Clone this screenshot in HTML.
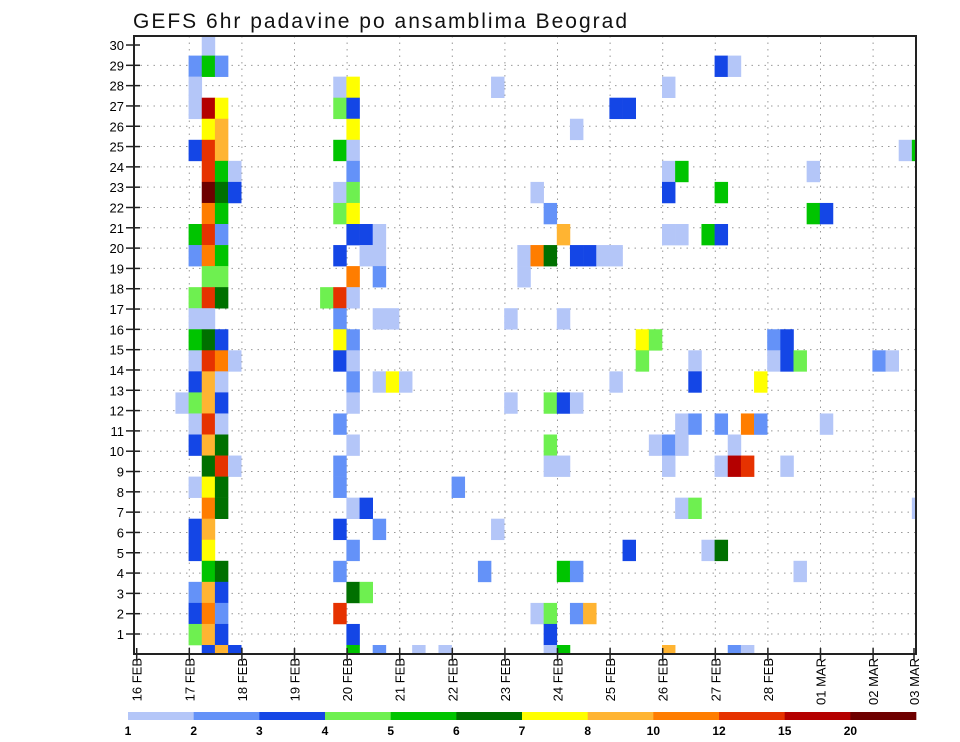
<!DOCTYPE html>
<html><head><meta charset="utf-8"><style>
html,body{margin:0;padding:0;background:#fff;}
svg{display:block;font-family:"Liberation Sans",sans-serif;}
</style></head><body>
<svg id="chart" width="960" height="742" viewBox="0 0 960 742">
<text x="133" y="28" font-size="21" fill="#111" textLength="494" lengthAdjust="spacing">GEFS 6hr padavine po ansamblima Beograd</text>
<defs><clipPath id="pc"><rect x="134" y="36" width="782" height="618"/></clipPath></defs>
<g id="grid"></g>
<g id="cells" clip-path="url(#pc)"></g>
<rect x="134" y="36" width="782" height="618" fill="none" stroke="#222" stroke-width="2"/>
<g id="yaxis"></g>
<g id="xaxis"></g>
<g id="legend"></g>
</svg>
<script>
// category labels
const dayLabels = ["16 FEB","17 FEB","18 FEB","19 FEB","20 FEB","21 FEB","22 FEB","23 FEB","24 FEB","25 FEB","26 FEB","27 FEB","28 FEB","01 MAR","02 MAR","03 MAR"];
const memberTicks = [1,2,3,4,5,6,7,8,9,10,11,12,13,14,15,16,17,18,19,20,21,22,23,24,25,26,27,28,29,30];
const levelLabels = ["1","2","3","4","5","6","7","8","10","12","15","20"];
const levelColors = ["#b4c6f8","#6492f8","#1446e6","#6ef050","#00c400","#007000","#ffff00","#ffb432","#ff7d00","#e63200","#b40000","#6e0000"];
// cells: time step (6h index from 16 FEB 00z), ensemble member row, colour level index
const cellTime = [
5, 4,5,6,44,45, 4,15,16,27,40, 4,5,6,15,16,36,37, 5,6,16,33, 4,5,6,15,16,58,59,
5,6,7,16,40,41,51, 5,6,7,15,16,30,40,44, 5,6,15,16,31,51,52, 4,5,6,16,17,18,32,40,41,43,44,
4,5,6,15,17,18,29,30,31,33,34,35,36, 5,6,16,18,29, 4,5,6,14,15,16, 4,5,15,18,19,28,32,
4,5,6,15,16,38,39,48,49, 4,5,6,7,15,16,38,42,48,49,50,56,57, 4,5,6,16,18,19,20,36,42,47,
3,4,5,6,16,28,31,32,33, 4,5,6,15,41,42,44,46,47,52, 4,5,6,16,31,39,40,41,45,
5,6,7,15,31,32,40,44,45,46,49, 4,5,6,15,24, 5,6,16,17,41,42,59, 4,5,15,18,27,
4,5,16,37,43,44, 5,6,15,26,32,33,50, 4,5,6,16,17, 4,5,6,15,30,31,33,34, 4,5,6,16,31,
5,6,7,16,18,21,23,31,32,40,45,46];
const cellMember = [
29, 28,28,28,28,28, 27,27,27,27,27, 26,26,26,26,26,26,26, 25,25,25,25, 24,24,24,24,24,24,24,
23,23,23,23,23,23,23, 22,22,22,22,22,22,22,22, 21,21,21,21,21,21,21, 20,20,20,20,20,20,20,20,20,20,20,
19,19,19,19,19,19,19,19,19,19,19,19,19, 18,18,18,18,18, 17,17,17,17,17,17, 16,16,16,16,16,16,16,
15,15,15,15,15,15,15,15,15, 14,14,14,14,14,14,14,14,14,14,14,14,14, 13,13,13,13,13,13,13,13,13,13,
12,12,12,12,12,12,12,12,12, 11,11,11,11,11,11,11,11,11,11, 10,10,10,10,10,10,10,10,10,
9,9,9,9,9,9,9,9,9,9,9, 8,8,8,8,8, 7,7,7,7,7,7,7, 6,6,6,6,6,
5,5,5,5,5,5, 4,4,4,4,4,4,4, 3,3,3,3,3, 2,2,2,2,2,2,2,2, 1,1,1,1,1,
0,0,0,0,0,0,0,0,0,0,0,0];
const cellLevel = [
0, 1,4,1,2,0, 0,0,6,0,0, 0,10,6,3,2,2,2, 6,7,6,0, 2,9,7,4,0,0,4,
9,4,0,1,0,4,0, 11,5,2,0,3,0,2,4, 8,4,3,6,1,4,2, 4,9,1,2,2,0,7,0,0,4,2,
1,8,4,2,0,0,0,8,5,2,2,0,0, 3,3,8,1,0, 3,9,5,3,9,0, 0,0,1,0,0,0,0,
4,5,2,6,1,6,3,1,2, 0,9,8,0,2,0,3,0,0,2,3,1,0, 2,7,0,1,0,6,0,0,2,6,
0,3,7,2,0,0,3,2,0, 0,9,0,1,0,1,1,8,1,0, 2,7,5,0,3,0,1,0,0,
5,9,0,1,0,0,0,0,10,9,0, 0,6,5,1,1, 8,5,0,2,0,3,0, 2,7,2,1,0,
2,6,1,2,0,5, 4,5,1,1,4,1,0, 1,7,2,5,3, 2,8,1,9,0,3,1,7, 3,7,2,2,2,
2,7,2,4,1,0,0,0,4,7,1,0];

const NS = "http://www.w3.org/2000/svg";
const X0 = 136, STEP = 13.15, DAY = 52.6, DAYX0 = 136.7;
const CELL_TOP0 = 645, CELL_H = 21.05;
const TICK_Y1 = 634, TICK_DY = 20.31;
function xTime(i){ return X0 + i*STEP; }
function yMember(j){ return CELL_TOP0 - j*CELL_H; }
function yTick(k){ return TICK_Y1 - (k-1)*TICK_DY; }
function xDay(d){ return DAYX0 + d*DAY; }
function mk(tag, attrs, parent){ const e=document.createElementNS(NS,tag); for(const k in attrs) e.setAttribute(k,attrs[k]); parent.appendChild(e); return e; }

const grid=document.getElementById('grid');
memberTicks.forEach(k=>{ if(k<30){ const l=mk('line',{x1:134,x2:916,y1:yTick(k),y2:yTick(k),stroke:'#999','stroke-width':1,'stroke-dasharray':'1.5 5'},grid);

 }});
dayLabels.forEach((d,i)=>{ if(i>0 && xDay(i)<914){ const l=mk('line',{x1:xDay(i),x2:xDay(i),y1:36,y2:654,stroke:'#999','stroke-width':1,'stroke-dasharray':'1.5 5'},grid);

 }});

const cells=document.getElementById('cells');
for(let n=0;n<cellTime.length;n++){
  const r=mk('rect',{x:xTime(cellTime[n]),y:yMember(cellMember[n]),width:STEP+0.3,height:CELL_H+0.3,fill:levelColors[cellLevel[n]]},cells);
  
  
}

const ya=document.getElementById('yaxis');
memberTicks.forEach(k=>{
  const t=mk('line',{x1:126,x2:140,y1:yTick(k),y2:yTick(k),stroke:'#222','stroke-width':1.5},ya);
  
  
  const tx=mk('text',{x:124,y:yTick(k)+5,'font-size':13,'text-anchor':'end',fill:'#000'},ya);
  tx.textContent=k;
  
  
});

const xa=document.getElementById('xaxis');
dayLabels.forEach((d,i)=>{
  const x=Math.min(xDay(i), 914);
  const t=mk('line',{x1:x,x2:x,y1:648,y2:660,stroke:'#222','stroke-width':1.5},xa);
  
  
  const tx=mk('text',{x:0,y:0,'font-size':13,'text-anchor':'end',fill:'#000',transform:`translate(${x+5},658) rotate(-90)`},xa);
  tx.textContent=d;
  
  
});

const lg=document.getElementById('legend');
const LX0=128, LW=65.67;
levelColors.forEach((c,i)=>{
  const r=mk('rect',{x:LX0+i*LW,y:712,width:LW+0.3,height:8,fill:c},lg);
  
  
});
levelLabels.forEach((s,i)=>{
  const tx=mk('text',{x:LX0+i*LW,y:735,'font-size':12,'font-weight':'bold','text-anchor':'middle',fill:'#000'},lg);
  tx.textContent=s;
  
  
});
</script>
</body></html>
